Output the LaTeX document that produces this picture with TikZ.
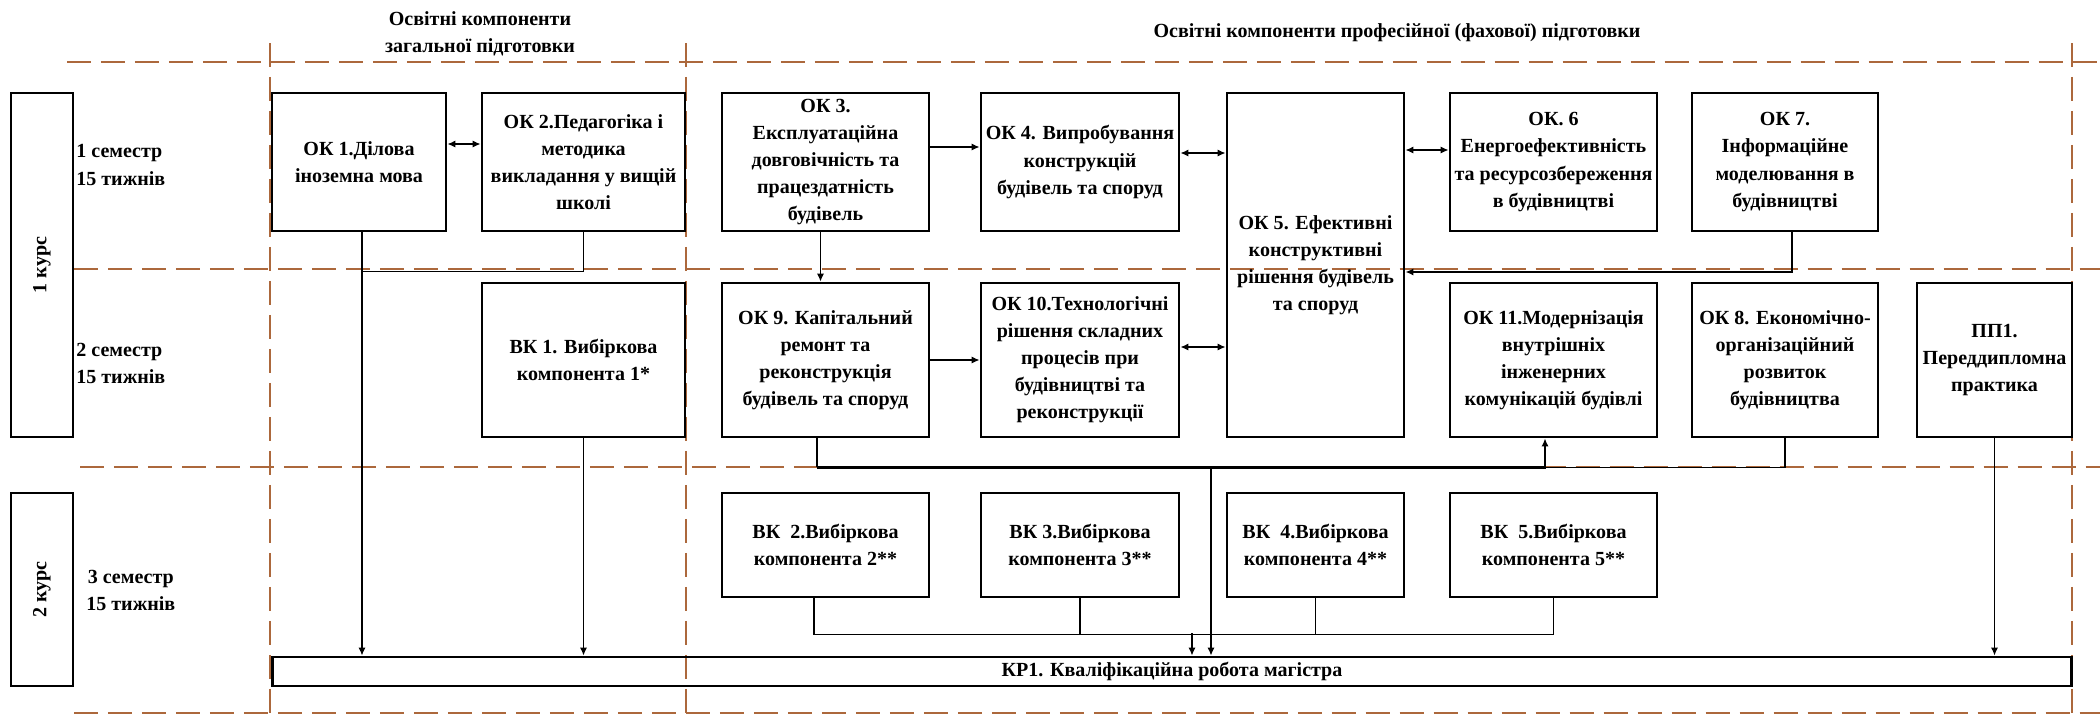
\documentclass[tikz,border=0pt]{standalone}
\usepackage{fontspec}
\setmainfont{Liberation Serif}
\usepackage{tikz}
\usetikzlibrary{arrows.meta}
\definecolor{gridbrown}{RGB}{172, 104, 60}
\tikzset{box/.style = {draw, line width = 1.6pt, align = center, inner sep = 1pt, font = \bfseries\fontsize{11.4}{15.4}\selectfont}}
\tikzset{semtext/.style = {align = left, inner sep = 0, font = \bfseries\fontsize{11.4}{15.4}\selectfont}}
\tikzset{dashline/.style = {gridbrown, line width = 1.3pt, dash pattern = on 0.48cm off 0.2cm}}
\tikzset{link/.style = {line width = 0.8pt}, heavylink/.style = {line width = 1.6pt}}
\tikzset{arr/.style = {-{Latex[length = 4.5pt, width = 4pt]}}, darr/.style = {{Latex[length = 4.5pt, width = 4pt]}-{Latex[length = 4.5pt, width = 4pt]}}}

\begin{document}
\begin{tikzpicture}[x = 0.02cm, y = -0.02cm]
    \useasboundingbox (0, 0) rectangle (2100, 721);

    \draw [dashline] (67, 62) -- (2100, 62);
    \draw [dashline] (74, 269) -- (2100, 269);
    \draw [dashline] (80, 467) -- (2100, 467);
    \draw [dashline] (74, 713) -- (2100, 713);
    \draw [dashline] (270, 43) -- (270, 721);
    \draw [dashline] (686, 43) -- (686, 721);
    \draw [dashline] (2072, 43) -- (2072, 721);

    \node [semtext, align = center] (headgen) at (480, 34) {Освітні компоненти\\загальної підготовки};
    \node [semtext] (headpro) at (1397, 33) {Освітні компоненти професійної (фахової) підготовки};

    \node [box, minimum width = 1.24cm, minimum height = 6.88cm] (course1) at (42, 265) {\rotatebox{90}{1 курс}};
    \node [box, minimum width = 1.24cm, minimum height = 3.86cm] (course2) at (42, 589.5) {\rotatebox{90}{2 курс}};
    \node [semtext, anchor = west] (sem1) at (76, 165) {1 семестр\\15 тижнів};
    \node [semtext, anchor = west] (sem2) at (76, 363) {2 семестр\\15 тижнів};
    \node [semtext, anchor = west, align = center] (sem3) at (86, 590) {3 семестр\\15 тижнів};

    \node [box, minimum width = 3.48cm, minimum height = 2.76cm] (ok1) at (359, 162) {ОК 1.Ділова\\іноземна мова};
    \node [box, minimum width = 4.06cm, minimum height = 2.76cm] (ok2) at (583.5, 162) {ОК 2.Педагогіка і\\методика\\викладання у вищій\\школі};
    \node [box, minimum width = 4.14cm, minimum height = 2.76cm] (ok3) at (825.5, 162) {ОК 3.\\Експлуатаційна\\довговічність та\\працездатність\\будівель};
    \node [box, minimum width = 3.96cm, minimum height = 2.76cm] (ok4) at (1080, 162) {ОК 4. Випробування\\конструкцій\\будівель та споруд};
    \node [box, minimum width = 3.54cm, minimum height = 6.88cm] (ok5) at (1315.5, 265) {ОК 5. Ефективні\\конструктивні\\рішення будівель\\та споруд};
    \node [box, minimum width = 4.14cm, minimum height = 2.76cm] (ok6) at (1553.5, 162) {ОК. 6\\Енергоефективність\\та ресурсозбереження\\в будівництві};
    \node [box, minimum width = 3.72cm, minimum height = 2.76cm] (ok7) at (1785, 162) {ОК 7.\\Інформаційне\\моделювання в\\будівництві};

    \node [box, minimum width = 4.06cm, minimum height = 3.08cm] (vk1) at (583.5, 360) {ВК 1. Вибіркова\\компонента 1*};
    \node [box, minimum width = 4.14cm, minimum height = 3.08cm] (ok9) at (825.5, 360) {ОК 9. Капітальний\\ремонт та\\реконструкція\\будівель та споруд};
    \node [box, minimum width = 3.96cm, minimum height = 3.08cm] (ok10) at (1080, 360) {ОК 10.Технологічні\\рішення складних\\процесів при\\будівництві та\\реконструкції};
    \node [box, minimum width = 4.14cm, minimum height = 3.08cm] (ok11) at (1553.5, 360) {ОК 11.Модернізація\\внутрішніх\\інженерних\\комунікацій будівлі};
    \node [box, minimum width = 3.72cm, minimum height = 3.08cm] (ok8) at (1785, 360) {ОК 8. Економічно-\\організаційний\\розвиток\\будівництва};
    \node [box, minimum width = 3.10cm, minimum height = 3.08cm] (pp1) at (1994.5, 360) {ПП1.\\Переддипломна\\практика};

    \node [box, minimum width = 4.14cm, minimum height = 2.08cm] (vk2) at (825.5, 545) {ВК~~2.Вибіркова\\компонента 2**};
    \node [box, minimum width = 3.96cm, minimum height = 2.08cm] (vk3) at (1080, 545) {ВК 3.Вибіркова\\компонента 3**};
    \node [box, minimum width = 3.54cm, minimum height = 2.08cm] (vk4) at (1315.5, 545) {ВК~~4.Вибіркова\\компонента 4**};
    \node [box, minimum width = 4.14cm, minimum height = 2.08cm] (vk5) at (1553.5, 545) {ВК~~5.Вибіркова\\компонента 5**};

    \node [box, minimum width = 36cm, minimum height = 0.58cm] (kr1) at (1172, 671.5) {КР1. Кваліфікаційна робота магістра};

    \draw [link, darr] ([yshift = 0.36cm]ok1.east) -- ([yshift = 0.36cm]ok2.west);
    \draw [link, arr] ([yshift = 0.30cm]ok3.east) -- ([yshift = 0.30cm]ok4.west);
    \draw [link, darr] ([yshift = 0.18cm]ok4.east) -- ([yshift = 0.18cm]ok4.east -| ok5.west);
    \draw [link, darr] ([yshift = 0.24cm]ok6.west -| ok5.east) -- ([yshift = 0.24cm]ok6.west);
    \draw [heavylink, arr] ([xshift = 0.14cm]ok7.south) |- ([yshift = -0.14cm]ok5.east);
    \draw [link, arr] ([xshift = -0.1cm]ok3.south) -- ([xshift = -0.1cm]ok9.north);
    \draw [link, arr] (ok9.east) -- (ok10.west);
    \draw [link, darr] ([yshift = 0.26cm]ok10.east) -- ([yshift = 0.26cm]ok10.east -| ok5.west);

    \coordinate (busa) at ([xshift = -0.17cm, yshift = -0.58cm]ok9.south);
    \coordinate (dropa) at (1211, 466);
    \draw [link] ([xshift = -0.17cm]ok9.south) -- (busa);
    \draw [heavylink, arr] (busa) -| ([xshift = -0.17cm]ok11.south);
    \draw [link] (ok8.south) |- ([xshift = -0.17cm]ok11.south |- busa);
    \draw [link, arr] (dropa) -- (dropa |- kr1.north);

    \draw [link, arr] ([xshift = 0.06cm]ok1.south) -- ([xshift = 0.06cm]ok1.south |- kr1.north);
    \draw [link] (ok2.south) |- ([xshift = 0.06cm, yshift = -0.78cm]ok1.south);
    \draw [link, arr] (vk1.south) -- (vk1.south |- kr1.north);
    \draw [link, arr] (pp1.south) -- (pp1.south |- kr1.north);

    \coordinate (busb) at ([xshift = -0.23cm, yshift = -0.72cm]vk2.south);
    \coordinate (dropb) at (1192, 633);
    \draw [link] ([xshift = -0.23cm]vk2.south) -- (busb) -| (vk5.south);
    \draw [link] (vk3.south) -- (vk3.south |- busb);
    \draw [link] (vk4.south) -- (vk4.south |- busb);
    \draw [link, arr] (dropb) -- (dropb |- kr1.north);
\end{tikzpicture}
\end{document}
